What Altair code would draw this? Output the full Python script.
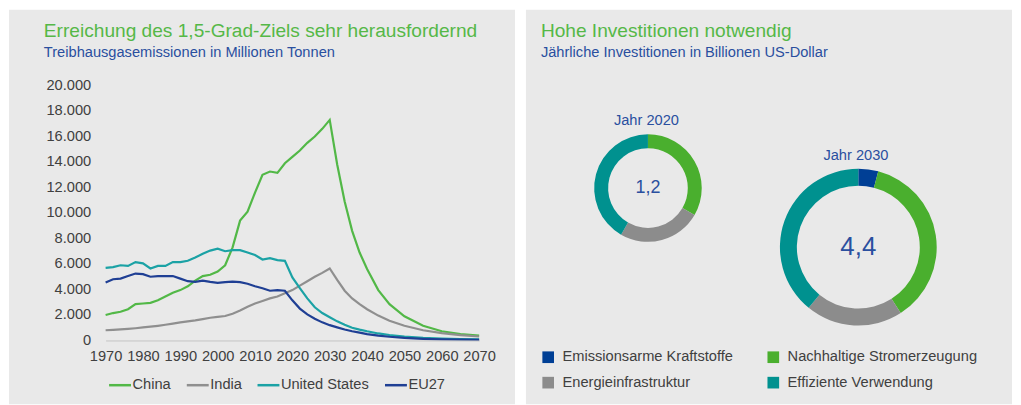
import altair as alt
import pandas as pd

FONT = "Liberation Sans"
PANEL = "#e9e9e9"
GREEN_TITLE = "#55b847"
BLUE_TEXT = "#2a4f9f"
LABEL = "#404040"

# ---------------- data: emissions (million tonnes) ----------------
years = [1970, 1972, 1974, 1976, 1978, 1980, 1982, 1984, 1986, 1988, 1990, 1992, 1994,
         1996, 1998, 2000, 2002, 2004, 2006, 2008, 2010, 2012, 2014, 2016, 2018, 2020,
         2022, 2024, 2026, 2028, 2030, 2032, 2034, 2036, 2038, 2040,
         2043, 2046, 2050, 2055, 2060, 2065, 2070]
china = [2000, 2150, 2250, 2450, 2850, 2900, 2950, 3150, 3450, 3750, 3950, 4250, 4700,
         5050, 5150, 5400, 5900, 7300, 9400, 10100, 11600, 13000, 13250, 13150, 13900, 14400,
         14900, 15500, 16000, 16600, 17300, 13800, 10900, 8600, 6900, 5600,
         3950, 2850, 1900, 1150, 720, 500, 380]
india = [800, 830, 870, 910, 960, 1020, 1080, 1150, 1230, 1320, 1420, 1500, 1580,
         1680, 1780, 1850, 1920, 2100, 2350, 2650, 2900, 3100, 3300, 3450, 3700, 3950,
         4300, 4650, 5000, 5300, 5650, 4750, 3900, 3300, 2850, 2450,
         1950, 1550, 1150, 800, 580, 420, 310]
united_states = [5700, 5750, 5900, 5850, 6150, 6050, 5650, 5850, 5850, 6150, 6150, 6250, 6500,
                 6800, 7050, 7200, 7000, 7080, 7080, 6900, 6700, 6350, 6450, 6300, 6250, 4950,
                 4100, 3300, 2600, 2150, 1820, 1500, 1230, 1000, 850, 720,
                 550, 430, 300, 200, 150, 110, 90]
eu27 = [4550, 4800, 4850, 5050, 5250, 5200, 5000, 5050, 5050, 5050, 4850, 4650, 4600,
        4700, 4600, 4520, 4580, 4620, 4580, 4450, 4250, 4100, 3900, 3950, 3900, 3150,
        2500, 2050, 1700, 1420, 1200, 1030, 860, 720, 610, 500,
        380, 290, 200, 130, 90, 60, 50]
series_names = ["China", "India", "United States", "EU27"]
series_colors = ["#52b847", "#8f8f8f", "#1ba2a5", "#1f3f94"]
x_ticks = list(range(1970, 2071, 10))
y_ticks = list(range(0, 20001, 2000))

# ---------------- data: investments (trillion USD) ----------------
donut_categories = ["Emissionsarme Kraftstoffe", "Nachhaltige Stromerzeugung",
                    "Energieinfrastruktur", "Effiziente Verwendung"]
donut_colors = ["#003f95", "#4aaf2e", "#8c8c8c", "#00918f"]
invest_2020 = [0.0, 0.4, 0.3, 0.5]
invest_2030 = [0.18, 1.62, 0.88, 1.72]
total_labels = ["1,2", "4,4"]
year_labels = ["Jahr 2020", "Jahr 2030"]

# ---------------- tables ----------------
rows = []
for name, vals in zip(series_names, [china, india, united_states, eu27]):
    for yr, v in zip(years, vals):
        rows.append({"year": yr, "series": name, "value": v})
lines_df = pd.DataFrame(rows)

drows = []
for yr, vals in [(2020, invest_2020), (2030, invest_2030)]:
    for rank, (cat, v) in enumerate(zip(donut_categories, vals)):
        if v > 0:
            drows.append({"year": yr, "category": cat, "value": v, "rank": rank})
donut_df = pd.DataFrame(drows)
one = pd.DataFrame({"a": [0]})


def txt(text, x, y, size, color, align="left", baseline="alphabetic"):
    return alt.Chart(one).mark_text(text=text, align=align, baseline=baseline,
                                    fontSize=size, color=color, font=FONT).encode(
        x=alt.value(x), y=alt.value(y))


def bg(x0, x1, y0, y1):
    return alt.Chart(one).mark_rect(color=PANEL).encode(
        x=alt.value(x0), x2=alt.value(x1), y=alt.value(y0), y2=alt.value(y1))


TOP = 76  # distance from panel top to plot-area top

# ---------------- left panel ----------------
W1, H1 = 375, 256
lines = alt.Chart(lines_df).mark_line(strokeWidth=2.2).encode(
    x=alt.X("year:Q", scale=alt.Scale(domain=[1970, 2070], nice=False),
            axis=alt.Axis(values=x_ticks, format="d", title=None, grid=False, ticks=False,
                          tickSize=0, domainColor="#c4c4c4", domainWidth=1, labelPadding=8,
                          labelFontSize=14.7, labelFont=FONT, labelColor=LABEL,
                          labelFlush=False, labelOverlap=False, zindex=1)),
    y=alt.Y("value:Q", scale=alt.Scale(domain=[0, 20000], nice=False),
            axis=alt.Axis(values=y_ticks, title=None, grid=False, ticks=False, tickSize=0,
                          domain=False, labelPadding=15, labelFontSize=14.7, labelFont=FONT,
                          labelColor=LABEL, labelOverlap=False, zindex=1,
                          labelExpr="replace(format(datum.value, ','), ',', '.')")),
    color=alt.Color("series:N", scale=alt.Scale(domain=series_names, range=series_colors),
                    legend=alt.Legend(title=None, orient="none", legendX=2, legendY=288,
                                      direction="horizontal", symbolType="stroke",
                                      symbolSize=484, symbolStrokeWidth=2.5, labelOffset=0,
                                      columnPadding=10, labelFontSize=14.7, labelFont=FONT,
                                      labelColor=LABEL, labelLimit=0, padding=0)),
    order=alt.Order("year:Q"),
)

left = alt.layer(
    bg(-97, 411, -TOP, 320),
    txt("Erreichung des 1,5-Grad-Ziels sehr herausfordernd", -62, 35 - 84, 19.2, GREEN_TITLE),
    txt("Treibhausgasemissionen in Millionen Tonnen", -62, 55 - 84, 14.7, BLUE_TEXT),
    lines,
).properties(width=W1, height=H1)

# ---------------- right panel ----------------
W2 = 488
color_enc = alt.Color("category:N", scale=alt.Scale(domain=donut_categories, range=donut_colors),
                      legend=alt.Legend(title=None, orient="none", legendX=15, legendY=341 - TOP,
                                        columns=2, direction="horizontal", symbolType="square",
                                        symbolSize=137, symbolStrokeWidth=0, labelOffset=7,
                                        columnPadding=33, rowPadding=10, labelFontSize=14.7,
                                        labelFont=FONT, labelColor=LABEL, labelLimit=0,
                                        padding=0))


def donut(yr, cx, cy, r_in, r_out):
    return alt.Chart(donut_df).transform_filter(f"datum.year == {yr}").mark_arc(
        innerRadius=r_in, outerRadius=r_out).encode(
        theta=alt.Theta("value:Q", stack=True),
        color=color_enc,
        order=alt.Order("rank:Q"),
        x=alt.value(cx), y=alt.value(cy - TOP),
    )


right = alt.layer(
    bg(0, W2, -TOP, 320),
    txt("Hohe Investitionen notwendig", 15, 27 - TOP, 19.2, GREEN_TITLE),
    txt("Jährliche Investitionen in Billionen US-Dollar", 15, 47 - TOP, 14.7, BLUE_TEXT),
    donut(2020, 122.5, 179, 40, 54),
    donut(2030, 333.7, 238.3, 61.7, 78.7),
    txt(total_labels[0], 122.5, 179 - TOP, 18, BLUE_TEXT, align="center", baseline="middle"),
    txt(total_labels[1], 333.7, 238.3 - TOP, 26, BLUE_TEXT, align="center", baseline="middle"),
    txt(year_labels[0], 121, 116 - TOP, 14.7, BLUE_TEXT, align="center"),
    txt(year_labels[1], 331.3, 151.3 - TOP, 14.7, BLUE_TEXT, align="center"),
).resolve_scale(theta="independent").properties(width=W2, height=H1)

chart = alt.hconcat(left, right, spacing=9).resolve_scale(
    color="independent").resolve_legend(color="independent").properties(
    padding=0, background="#ffffff").configure_view(stroke="transparent")

chart.save("out.html", embed_options={"renderer": "svg", "actions": False})
